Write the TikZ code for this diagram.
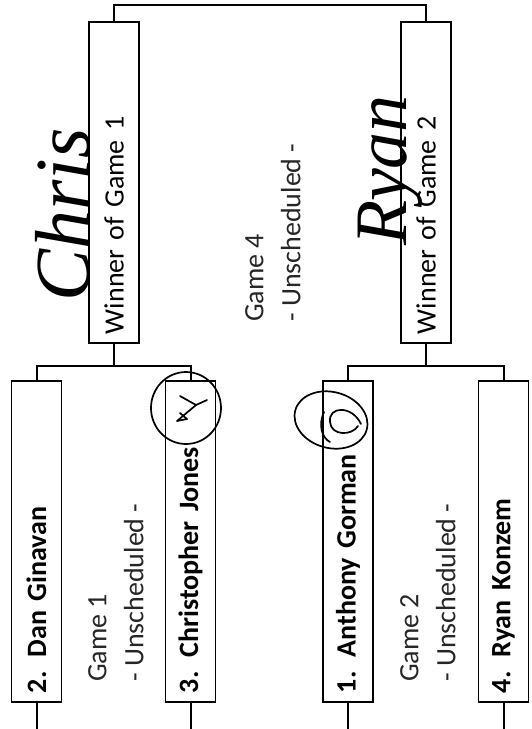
\documentclass[tikz,border=0pt]{standalone}
\usepackage{fontspec}
\setmainfont{Carlito}
\newfontfamily\handfont{Liberation Serif}

\begin{document}
\begin{tikzpicture}[
  x=1pt, y=-1pt,
  slot/.style={draw,line width=1.8pt,rotate=90,minimum width=321pt,
    minimum height=50pt,inner xsep=9pt,text width=303pt,align=left,
    font=\fontsize{28}{30}\selectfont},
  seed/.style={slot,font=\fontsize{28}{30}\selectfont\bfseries},
  gamelbl/.style={rotate=90,inner sep=0pt,anchor=north west,align=left,
    text=black!85,font=\fontsize{28}{37}\selectfont},
  scrawl/.style={rotate=90,inner sep=0pt,anchor=base west,
    font=\handfont\itshape\fontsize{78}{78}\selectfont},
  wire/.style={line width=2pt},
  ink/.style={line width=1.7pt,line cap=round,line join=round}
]
  \useasboundingbox (0,0) rectangle (532,729);

  % second round
  \node[slot] (win1) at (114,182.5) {Winner of Game 1};
  \node[slot] (win2) at (426,182.5) {Winner of Game 2};

  % first round
  \node[seed] (dan) at (36.5,541.5) {2. Dan Ginavan};
  \node[seed] (chris) at (190.5,541.5) {3. Christopher Jones};
  \node[seed] (tony) at (348,541.5) {1. Anthony Gorman};
  \node[seed] (konzem) at (503.5,541.5) {4. Ryan Konzem};

  \node[gamelbl] (g1) at (88,682) {Game 1\\- Unscheduled -};
  \node[gamelbl] (g2) at (400,682) {Game 2\\- Unscheduled -};
  \node[gamelbl] (g4) at (245,322) {Game 4\\- Unscheduled -};

  % bracket lines
  \draw[wire] (win1.west) -- ++(0,22) coordinate (j1);
  \draw[wire] (dan.east) |- (j1) -| (chris.east);
  \draw[wire] (win2.west) -- ++(0,22) coordinate (j2);
  \draw[wire] (tony.east) |- (j2) -| (konzem.east);
  \draw[wire] (win1.east) -- ++(0,-16) -| (win2.east);
  \foreach \p in {dan,chris,tony,konzem}
    \draw[wire] (\p.west) -- ++(0,27);

  % handwritten picks
  \node[scrawl] (pick1) at (89,302) {Chris};
  \node[scrawl,font=\handfont\itshape\fontsize{74}{74}\selectfont] (pick2) at (406,246) {Ryan};
  \draw[ink] (186,408) ellipse [x radius=35pt,y radius=36pt];
  \draw[ink] (180,396) -- (196,405) -- (207,400);
  \draw[ink] (196,405) -- (177,421) -- (187,419) -- (180,413);
  \draw[ink,rotate around={-15:(331,420)}] (331,420) ellipse [x radius=37pt,y radius=28pt];
  \draw[ink] (361,424) .. controls (352,405) and (328,406) .. (330,422)
    .. controls (331,436) and (352,436) .. (358,426);
  \draw[ink] (324,412) .. controls (318,425) and (322,438) .. (330,442);
\end{tikzpicture}
\end{document}
